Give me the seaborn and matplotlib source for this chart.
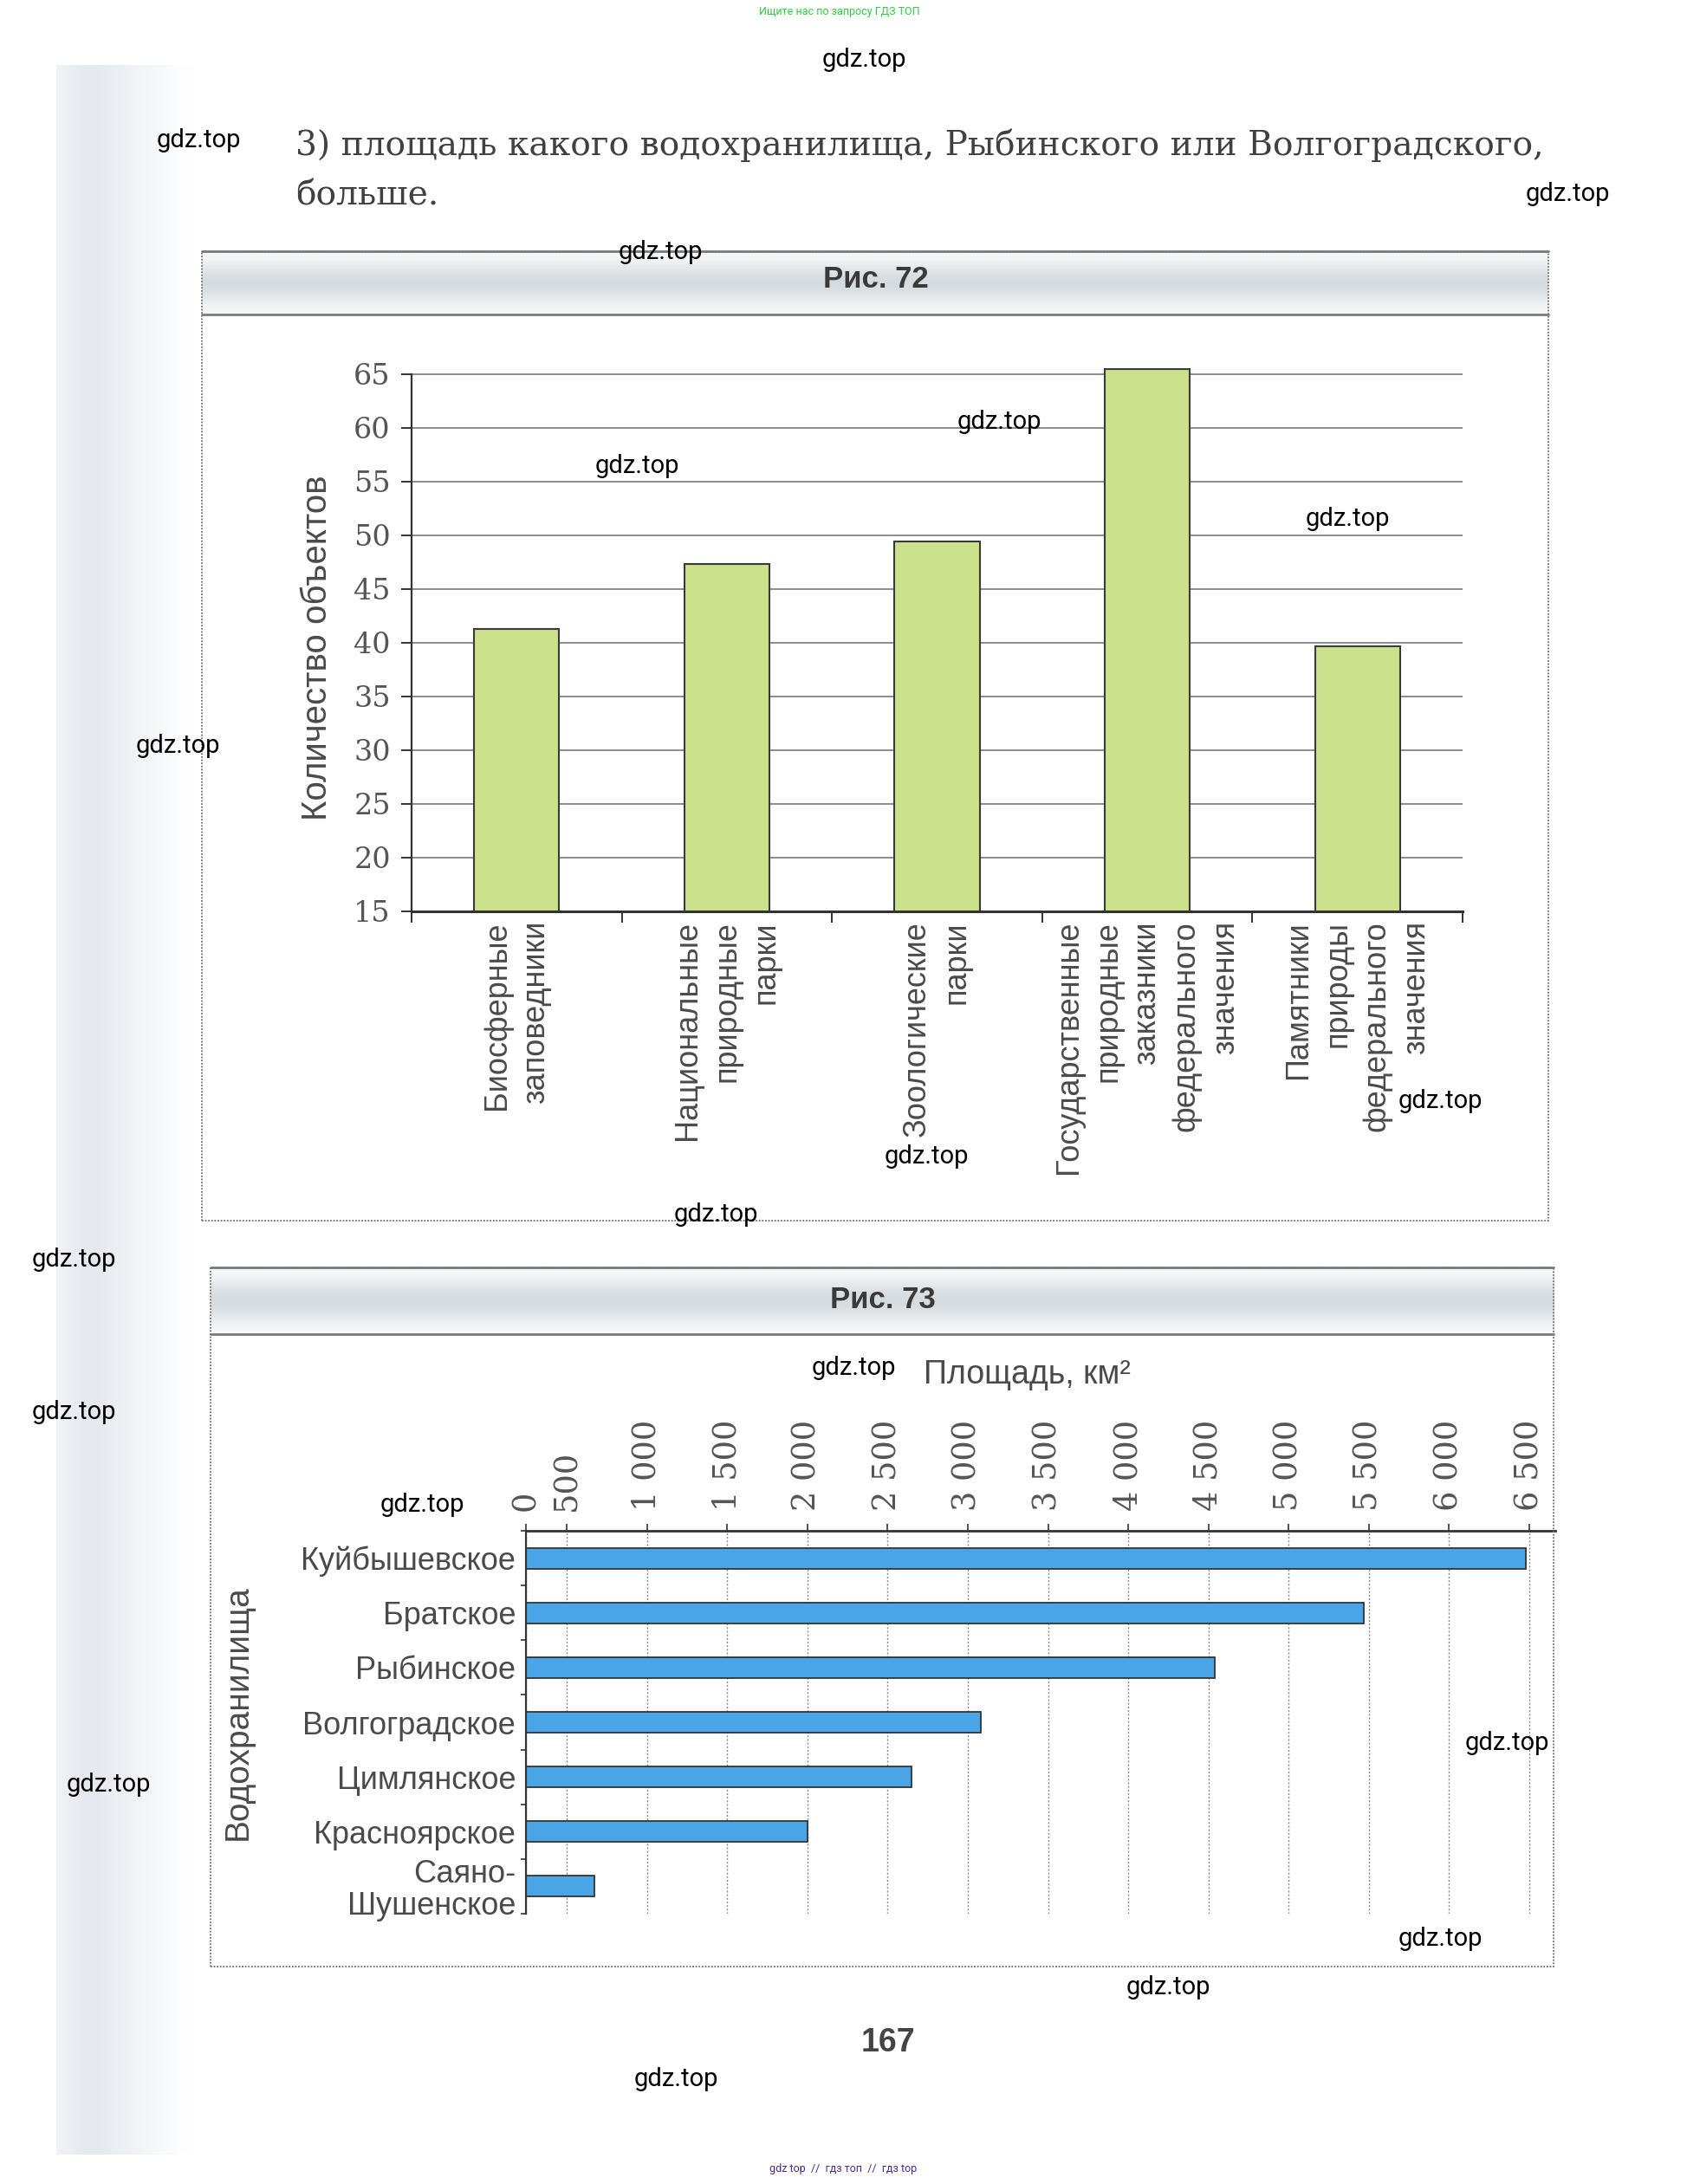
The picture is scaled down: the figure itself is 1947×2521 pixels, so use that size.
import numpy as np
import seaborn as sns
import matplotlib
matplotlib.use("Agg")
import matplotlib.pyplot as plt
from matplotlib.patches import Rectangle
from matplotlib.lines import Line2D

# Рис. 72 data
obj_types = ["Биосферные\nзаповедники",
             "Национальные\nприродные\nпарки",
             "Зоологические\nпарки",
             "Государственные\nприродные\nзаказники\nфедерального\nзначения",
             "Памятники\nприроды\nфедерального\nзначения"]
obj_counts = [41.3, 47.3, 49.4, 65.5, 39.7]
count_ticks = [15, 20, 25, 30, 35, 40, 45, 50, 55, 60, 65]

# Рис. 73 data
reservoirs = ["Куйбышевское", "Братское", "Рыбинское", "Волгоградское",
              "Цимлянское", "Красноярское", "Саяно-\nШушенское"]
areas = [6480, 5470, 4540, 3080, 2650, 2000, 670]
area_ticks = [500, 1000, 1500, 2000, 2500, 3000, 3500, 4000, 4500, 5000, 5500, 6000, 6500]
area_labels = ["0", "500", "1 000", "1 500", "2 000", "2 500", "3 000", "3 500",
               "4 000", "4 500", "5 000", "5 500", "6 000", "6 500"]
area_min, area_max = 246, 6662   # the original axis starts a bit right of zero

GREEN = "#cde08c"
BLUE = "#4aa5e6"
GRAY_TXT = "#4a4a4a"
SERIF = "DejaVu Serif"

sns.set_theme(style="white")
plt.rcParams["font.family"] = ["Liberation Sans", "DejaVu Sans"]

W, H = 1947, 2521
fig = plt.figure(figsize=(W / 100, H / 100), dpi=100)


def fx(px):
    return px / W


def fy(py):
    return 1 - py / H


# scan shadow on the left edge
sh = fig.add_axes([fx(65), fy(2487), fx(225) - fx(65), fy(75) - fy(2487)])
sh.set_zorder(-5)
g = np.linspace(0, 1, 200)
fade = 0.55 + 0.45 * np.clip(g / 0.2, 0, 1)
fade = fade * (1 - np.clip((g - 0.3) / 0.7, 0, 1)) ** 1.2
base = np.array([0.90, 0.915, 0.935])
row = 1 - (1 - base)[None, :] * fade[:, None]
sh.imshow(row[None, :, :], aspect="auto", interpolation="bilinear")
sh.axis("off")


def panel(x0, y0, x1, y1, hy, title, ty):
    hax = fig.add_axes([fx(x0), fy(hy), fx(x1) - fx(x0), fy(y0) - fy(hy)])
    t = np.linspace(0, 1, 60)
    prof = 0.5 - 0.5 * np.cos(2 * np.pi * t)
    c0 = np.array([0.84, 0.86, 0.875])
    c1 = np.array([0.965, 0.97, 0.975])
    col = c0[None, :] + (c1 - c0)[None, :] * (1 - prof)[:, None]
    hax.imshow(col[:, None, :], aspect="auto", interpolation="bilinear")
    hax.axis("off")
    fig.add_artist(Rectangle((fx(x0), fy(y1)), fx(x1) - fx(x0), fy(y0) - fy(y1),
                             transform=fig.transFigure, fill=False,
                             ls=(0, (1, 1)), lw=1.3, ec="#707070", zorder=5))
    for yy in (y0, hy):
        fig.add_artist(Line2D([fx(x0), fx(x1)], [fy(yy), fy(yy)],
                              transform=fig.transFigure, color="#7a7a7a", lw=2, zorder=5))
    fig.text(fx((x0 + x1) / 2 + 1), fy(ty), title, ha="center", va="center",
             fontsize=25, fontweight="bold", color="#3a3a3a", zorder=6)


panel(233, 290, 1787, 1409, 363, "Рис. 72", 323)
panel(243, 1463, 1793, 2270, 1540, "Рис. 73", 1500)

# ---------- Рис. 72 ----------
y_top = 65.6
ax1 = fig.add_axes([fx(475), fy(1052), fx(1688) - fx(475), fy(1052 - 12.4 * 50.6) - fy(1052)])
sns.barplot(x=obj_types, y=obj_counts, color=GREEN, saturation=1, edgecolor="#3a3a3a",
            linewidth=1.5, width=0.405, ax=ax1)
ax1.set_xlim(-0.5, 4.5)
ax1.set_ylim(15, y_top)
ax1.set_yticks(count_ticks)
ax1.yaxis.grid(True, color="#8c8c8c", lw=1.4)
ax1.set_axisbelow(True)
for s in ["top", "right"]:
    ax1.spines[s].set_visible(False)
ax1.spines["left"].set_bounds(15, 65)
ax1.spines["left"].set_color("#333333")
ax1.spines["left"].set_linewidth(1.6)
ax1.spines["bottom"].set_color("#333333")
ax1.spines["bottom"].set_linewidth(2.2)
ax1.tick_params(axis="y", left=True, length=8.4, width=1.4, color="#333333", pad=9,
                labelsize=24, labelcolor="#555555", direction="out")
for lab in ax1.get_yticklabels():
    lab.set_fontfamily(SERIF)
ax1.set_xticks(range(len(obj_types)))
ax1.set_xticklabels(obj_types, rotation=90, ha="center", va="top", multialignment="right",
                    fontsize=26, color=GRAY_TXT, linespacing=1.38)
ax1.set_xticks(np.arange(-0.5, len(obj_types), 1), minor=True)
ax1.tick_params(axis="x", which="major", bottom=True, length=0, pad=8)
ax1.tick_params(axis="x", which="minor", bottom=True, length=9.4, width=1.4,
                color="#333333", direction="out")
ax1.set_xlabel("")
ax1.set_ylabel("Количество объектов", fontsize=29, color=GRAY_TXT, va="center")
ax1.yaxis.set_label_coords(-0.0899, 0.4845)

# ---------- Рис. 73 ----------
ax2 = fig.add_axes([fx(607), fy(2209), fx(1795) - fx(607), fy(1767) - fy(2209)])
sns.barplot(x=areas, y=reservoirs, orient="h", color=BLUE, saturation=1,
            edgecolor="#333333", linewidth=1.3, width=0.38, ax=ax2)
ax2.set_xlim(area_min, area_max)
ax2.set_ylim(len(reservoirs) - 0.5, -0.5)
ax2.xaxis.tick_top()
ax2.xaxis.set_label_position("top")
ax2.set_xticks([area_min] + area_ticks)
ax2.set_xticklabels(area_labels, rotation=90, fontsize=26.5, color="#555555",
                    fontfamily=SERIF)
for lab in ax2.get_xticklabels():
    lab.set_va("bottom")
ax2.tick_params(axis="x", top=True, bottom=False, length=5.8, width=1.2,
                color="#333333", pad=11, direction="out")
ax2.xaxis.grid(True, color="#8a8a8a", lw=1.0, ls=(0, (1.5, 1.5)))
ax2.set_axisbelow(True)
for s in ["bottom", "right"]:
    ax2.spines[s].set_visible(False)
ax2.spines["top"].set_color("#333333")
ax2.spines["top"].set_linewidth(2.0)
ax2.spines["left"].set_color("#333333")
ax2.spines["left"].set_linewidth(1.6)
ax2.set_yticks(range(len(reservoirs)))
ax2.set_yticklabels(reservoirs, fontsize=26, color=GRAY_TXT, multialignment="right",
                    linespacing=1.05)
ax2.set_yticks(np.arange(-0.5, len(reservoirs), 1), minor=True)
ax2.tick_params(axis="y", which="major", left=True, length=0, pad=8.6)
ax2.tick_params(axis="y", which="minor", left=True, length=4.3, width=1.2,
                color="#333333", direction="out")
ax2.set_xlabel("Площадь, км²", fontsize=27, color=GRAY_TXT, va="center")
ax2.xaxis.set_label_coords(0.4865, 1.407)
ax2.set_ylabel("Водохранилища", fontsize=28, color=GRAY_TXT, va="center")
ax2.yaxis.set_label_coords(-0.2795, 0.525)

# ---------- page text ----------
fig.text(fx(341), fy(168), "3) площадь какого водохранилища, Рыбинского или Волгоградского,",
         ha="left", va="center", fontfamily=SERIF, fontsize=28.2, color="#404040")
fig.text(fx(341), fy(226), "больше.", ha="left", va="center",
         fontfamily=SERIF, fontsize=28.2, color="#404040")
fig.text(fx(1025), fy(2358), "167", ha="center", va="center", fontsize=27,
         fontweight="bold", color="#444444")
fig.text(fx(969), fy(14), "Ищите нас по запросу ГДЗ ТОП", ha="center", va="center",
         fontsize=9, color="#2ecc40", fontfamily="Roboto")
fig.text(fx(973), fy(2503), "gdz top  //  гдз топ  //  гдз top", ha="center", va="center",
         fontsize=9, color="#4b2c91", fontfamily="Roboto")

marks = [(997, 69), (229, 162), (1809, 224), (762, 291), (1153, 487), (735, 538),
         (1555, 599), (205, 861), (1662, 1271), (1069, 1335), (826, 1402), (85, 1454),
         (85, 1630), (985, 1579), (487, 1737), (1739, 2012), (125, 2060), (1662, 2238),
         (1348, 2294), (780, 2400)]
for mx, my in marks:
    fig.text(fx(mx), fy(my), "gdz.top", ha="center", va="center", fontsize=21,
             color="black", fontfamily="Roboto", zorder=10)

fig.savefig("out.png", dpi=100, facecolor="white")
